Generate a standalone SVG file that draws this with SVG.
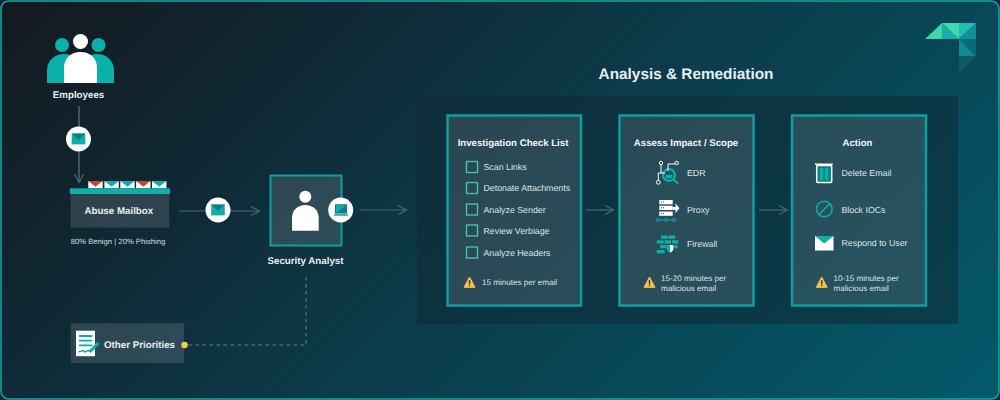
<svg xmlns="http://www.w3.org/2000/svg" width="1000" height="400" viewBox="0 0 1000 400">
<defs>
<linearGradient id="bg" x1="0" y1="0" x2="700" y2="700" gradientUnits="userSpaceOnUse">
<stop offset="0" stop-color="#14191f"/><stop offset="0.3" stop-color="#0f2b38"/><stop offset="0.5" stop-color="#0c3a48"/><stop offset="0.75" stop-color="#074a5a"/><stop offset="1" stop-color="#035a6b"/>
</linearGradient>
<marker id="arr" markerWidth="12" markerHeight="12" refX="9" refY="5" orient="auto" markerUnits="userSpaceOnUse"><path d="M1 0.500L9.500 5L1 9.500" fill="none" stroke="#4a6670" stroke-width="1.300"/></marker>
<g id="mail"><rect x="-6.800" y="-5.400" width="13.600" height="10.800" fill="#0bb0a8"/><path d="M-6.800 -5.400H6.800L0 1Z" fill="#0a7f88"/></g>
<g id="warn"><path d="M0 -5.500L5.500 4.800H-5.500Z" fill="#f2c14e" stroke="#f2c14e" stroke-linejoin="round"/><rect x="-0.700" y="-2.400" width="1.400" height="4" fill="#3a3a2a"/><rect x="-0.700" y="2.200" width="1.400" height="1.400" fill="#3a3a2a"/></g>
<g id="env"><rect x="-7.200" y="-3.600" width="14.400" height="7.200" fill="#fff"/><path d="M-7.200 -3.600H7.200L0 2Z" fill="#0bb0a8"/></g>
<g id="envr"><rect x="-7.200" y="-3.600" width="14.400" height="7.200" fill="#fff"/><path d="M-7.200 -3.600H7.200L0 2Z" fill="#c8433f"/></g>
</defs>
<style>
text{font-family:"Liberation Sans",Arial,sans-serif;fill:#e8eef0;text-rendering:geometricPrecision}
.b{font-weight:700;font-size:9.750px}
.t{font-size:9.650px;font-weight:700;fill:#f2f6f7;text-anchor:middle}
.s{font-size:8.800px;fill:#dbe5e7}
.n{font-size:8.100px;fill:#dbe5e7}
.card{fill:#fff;fill-opacity:0.12;stroke:#0e9f9e;stroke-width:2.500}
.box{fill:#fff;fill-opacity:0.13}
.chk{fill:none;stroke:#4cc5b4;stroke-width:1.300}
.c{fill:none;stroke:#4a6670;stroke-width:1.200}
</style>
<rect width="1000" height="400" fill="#0c2b36"/>
<rect x="1" y="1" width="998" height="398" rx="8" fill="url(#bg)" stroke="#16a6a4" stroke-width="1.500"/>

<g id="logo">
<path d="M925 39L942 23V39Z" fill="#3fd6a9"/>
<path d="M942 23L959 39H942Z" fill="#17b0a8"/><path d="M942 23H959V39Z" fill="#3fd6b0"/>
<path d="M959 23H976L959 39Z" fill="#1fbfae"/><path d="M976 23V39H959Z" fill="#10919a"/>
<path d="M959 39H976V56.500Z" fill="#0a6a76"/><path d="M959 39L976 56.500H959Z" fill="#0f8a92"/>
<path d="M959 56.500H976L959 73Z" fill="#0a5b68"/>
</g>

<g id="panel"><rect x="417" y="96" width="541" height="228" fill="#0f2a36" fill-opacity="0.55"/>
<text x="686" y="79" text-anchor="middle" style="font-weight:700;font-size:15.350px">Analysis &amp; Remediation</text></g>

<g id="connectors">
<path class="c" d="M79 106V182" marker-end="url(#arr)" style="stroke-width:1.500"/>
<path class="c" d="M179 211H259" marker-end="url(#arr)"/>
<path class="c" d="M360 210H406" marker-end="url(#arr)"/>
<path class="c" d="M586 210H613" marker-end="url(#arr)"/>
<path class="c" d="M759 210H787" marker-end="url(#arr)"/>
<path d="M306 277V345H185" fill="none" stroke="#5f858f" stroke-width="1" stroke-dasharray="3.500 3.500"/>
</g>

<g id="employees">
<circle cx="62" cy="45" r="7" fill="#0bb0a8"/><circle cx="98.500" cy="45" r="7" fill="#0bb0a8"/>
<path d="M47 83V71C47 60 55 54 64 54C73 54 81 60 81 71V83Z" fill="#0bb0a8"/>
<path d="M80 83V71C80 60 88 54 97 54C106 54 114 60 114 71V83Z" fill="#0bb0a8"/>
<circle cx="80.500" cy="41.500" r="7.500" fill="#fff"/>
<path d="M64 83V68C64 58 71 52 80.500 52C90 52 97 58 97 68V83Z" fill="#fff"/>
<text x="78.500" y="97.500" text-anchor="middle" class="b">Employees</text>
</g>

<g id="mail1"><circle cx="78.500" cy="139" r="12.500" fill="#fff"/><use href="#mail" x="78.500" y="139"/></g>

<g id="abuse-mailbox">
<use href="#envr" x="95.500" y="184.700"/><use href="#env" x="111.600" y="184.700"/><use href="#env" x="127.500" y="184.700"/><use href="#envr" x="143.300" y="184.700"/><use href="#env" x="159.200" y="184.700"/>
<rect x="70" y="188.300" width="100" height="5.700" fill="#0bb0a8"/>
<rect class="box" x="70.700" y="194" width="98.600" height="33.700"/>
<text x="118.800" y="214" text-anchor="middle" class="b">Abuse Mailbox</text>
<text x="118" y="244" text-anchor="middle" style="font-size:7.700px;fill:#d5dfe2">80% Benign | 20% Phishing</text>
</g>

<g id="mail2"><circle cx="218" cy="210" r="12.500" fill="#fff"/><use href="#mail" x="218" y="210"/></g>

<g id="security-analyst">
<rect class="box" x="270.500" y="175.500" width="71" height="70" style="stroke:#0e9f9e;stroke-width:2"/>
<circle cx="305.300" cy="196.700" r="6" fill="#fff"/>
<path d="M292 230.700V218C292 210 298 205 305.300 205C312.700 205 318.700 210 318.700 218V230.700Z" fill="#fff"/>
<circle cx="340.700" cy="210" r="12.500" fill="#fff"/>
<rect x="335.500" y="204.800" width="11" height="8.300" fill="#0bb0a8" stroke="#0a7f88"/><path d="M335.500 213L346.500 205V213Z" fill="#0a7f88"/><rect x="334" y="214.300" width="14" height="1.300" fill="#0a7f88"/>
<text x="305.500" y="264" text-anchor="middle" class="b">Security Analyst</text>
</g>

<g id="other-priorities">
<rect class="box" x="70.700" y="323.300" width="113.500" height="39.700"/>
<rect x="76" y="330.700" width="19" height="25.500" fill="#fff"/>
<path d="M79 336H92.300M79 340.700H92.300M79 345.300H92.300" stroke="#0bb0a8" stroke-width="1.800"/>
<path d="M78.500 352L83 350.500L85 352L88 350.500L91 352" fill="none" stroke="#0a8f8f" stroke-width="1.300"/><path d="M89.500 352L98.500 343" stroke="#0bb0a8" stroke-width="3"/>
<text x="104" y="348" class="b">Other Priorities</text>
<circle cx="184.500" cy="345" r="3.300" fill="#f5c84c"/>
</g>

<g id="check-list">
<rect class="card" x="447.500" y="115.500" width="133.500" height="190"/>
<text class="t" x="513" y="145.500">Investigation Check List</text>
<rect class="chk" x="466.500" y="161.500" width="11" height="11"/><text class="s" x="483.500" y="170">Scan Links</text>
<rect class="chk" x="466.500" y="182.500" width="11" height="11"/><text class="s" x="483.500" y="191">Detonate Attachments</text>
<rect class="chk" x="466.500" y="204" width="11" height="11"/><text class="s" x="483.500" y="213">Analyze Sender</text>
<rect class="chk" x="466.500" y="225" width="11" height="11"/><text class="s" x="483.500" y="234">Review Verbiage</text>
<rect class="chk" x="466.500" y="247" width="11" height="11"/><text class="s" x="483.500" y="256">Analyze Headers</text>
<use href="#warn" x="469.500" y="282.500"/>
<text class="n" x="482" y="285">15 minutes per email</text>
</g>

<g id="assess">
<rect class="card" x="619.500" y="115.500" width="134" height="190"/>
<text class="t" x="686" y="145.500">Assess Impact / Scope</text>
<g id="edr-icon"><circle cx="669" cy="175" r="6" fill="#1c5a66" stroke="#0bb0a8" stroke-width="2.200"/><path d="M673.500 179.500L678 183.500" stroke="#0bb0a8" stroke-width="2.200"/>
<path d="M665.500 175A3.500 3.500 0 0 0 672.500 175Z" fill="#0bb0a8"/>
<path d="M661 165V173M658.300 173H665M658.300 173V180.500M668 171V164H675" fill="none" stroke="#fff" stroke-width="1"/>
<circle cx="661" cy="163" r="1.700" fill="none" stroke="#fff"/><circle cx="676.700" cy="163" r="1.700" fill="none" stroke="#fff"/><circle cx="658.300" cy="182.300" r="1.900" fill="none" stroke="#fff"/></g>
<text class="s" x="687" y="176">EDR</text>
<g id="proxy-icon"><rect x="659.300" y="200" width="13.400" height="4.300" fill="#fff"/><rect x="659.300" y="205.700" width="13.400" height="4.300" fill="#fff"/><rect x="659.300" y="211.500" width="13.400" height="4.300" fill="#fff"/>
<path d="M661 202H664M661 207.800H664M661 213.600H664" stroke="#285160" stroke-dasharray="1 1"/>
<path d="M672.700 207H675.500V203.500L679.500 208.300L675.500 213V209.800H672.700Z" fill="#fff"/>
<path d="M656 220H676" stroke="#0bb0a8"/><circle cx="657.700" cy="220" r="1.500" fill="#1c4f5c" stroke="#0bb0a8"/><circle cx="666" cy="220" r="1.500" fill="#1c4f5c" stroke="#0bb0a8"/><circle cx="674" cy="220" r="1.500" fill="#1c4f5c" stroke="#0bb0a8"/></g>
<text class="s" x="687" y="213">Proxy</text>
<g id="firewall-icon" fill="#0bb0a8"><rect x="661" y="235.500" width="6.800" height="3.300"/><rect x="668.500" y="235.500" width="6.800" height="3.300"/><rect x="656.700" y="240.300" width="7" height="3.300"/><rect x="664.500" y="240.300" width="6.500" height="3.300"/><rect x="672" y="240.300" width="6.300" height="3.300"/><rect x="660" y="245" width="6.500" height="3.300"/><rect x="674" y="245" width="3.500" height="3.300"/><rect x="656.700" y="250" width="8" height="3.300"/>
<path d="M666.700 245H673.300V249C673.300 250.800 671.500 252 670 252.800C668.500 252 666.700 250.800 666.700 249Z" fill="#0bb0a8"/><path d="M670 245H673.300V249C673.300 250.800 671.500 252 670 252.800Z" fill="#fff"/></g>
<text class="s" x="687" y="247">Firewall</text>
<use href="#warn" x="649.500" y="282.500"/>
<text class="n" x="661" y="281">15-20 minutes per</text><text class="n" x="661" y="291">malicious email</text>
</g>

<g id="action">
<rect class="card" x="792" y="115.500" width="134" height="190"/>
<text class="t" x="857.500" y="145.500">Action</text>
<g id="trash"><rect x="816.700" y="165.500" width="15" height="17" rx="1" fill="#0a8087" stroke="#fff" stroke-width="1.500"/><rect x="815" y="163.500" width="17.700" height="1.500" fill="#fff"/><rect x="820" y="168" width="3.300" height="12" fill="#0bb0a8"/><rect x="825" y="168" width="3.300" height="12" fill="#0bb0a8"/></g>
<text class="s" x="841.500" y="176">Delete Email</text>
<g id="block"><circle cx="824.300" cy="209" r="7.800" fill="none" stroke="#0bb0a8" stroke-width="1.500"/><path d="M819 214.500L830 203.500" stroke="#0bb0a8" stroke-width="1.500"/></g>
<text class="s" x="841.500" y="213">Block IOCs</text>
<g id="respond"><rect x="815" y="236" width="18.500" height="14.500" fill="#fff"/><path d="M815 236H833.500L824.250 243.500Z" fill="#0bb0a8"/></g>
<text class="s" x="841.500" y="246">Respond to User</text>
<use href="#warn" x="821.700" y="282.500"/>
<text class="n" x="833.500" y="281">10-15 minutes per</text><text class="n" x="833.500" y="291">malicious email</text>
</g>
</svg>
